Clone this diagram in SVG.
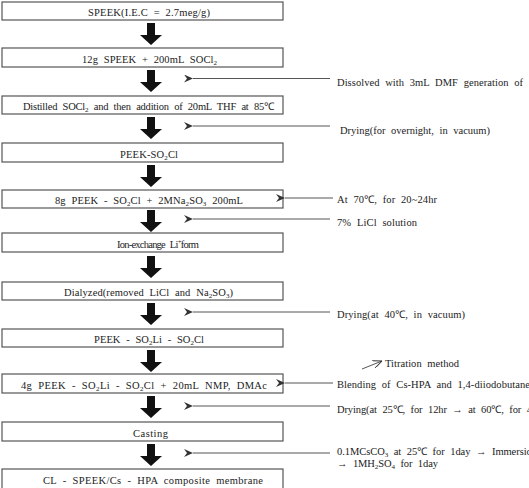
<svg xmlns="http://www.w3.org/2000/svg" width="529" height="488" viewBox="0 0 529 488">
<defs>
<style>
.box{fill:#fff;stroke:#555;stroke-width:1.2}
.t{font-family:"Liberation Serif","Times New Roman",serif;font-size:10.5px;fill:#222;word-spacing:3px}
.sub{font-size:7px}
.ln{stroke:#555;stroke-width:1;fill:none}
.big{fill:#111}
</style>
<marker id="ah" markerWidth="10" markerHeight="8" refX="0" refY="4" orient="auto" markerUnits="userSpaceOnUse">
<path d="M0,4 L9,0 L6,4 L9,8 Z" fill="#333"/>
</marker>
<marker id="ah2" markerWidth="10" markerHeight="8" refX="9" refY="4" orient="auto" markerUnits="userSpaceOnUse">
<path d="M9,4 L0,0 M9,4 L0,8" stroke="#333" stroke-width="1" fill="none"/>
</marker>
<path id="darr" d="M-4,0 H4 V12 H11 L0,22 L-11,12 H-4 Z"/>
</defs>

<g id="n1"><rect class="box" x="2" y="2" width="281" height="18"/><text class="t" x="88" y="16" textLength="122" lengthAdjust="spacing">SPEEK(I.E.C = 2.7meg/g)</text></g>
<g id="n2"><rect class="box" x="2" y="48" width="281" height="19"/><text class="t" x="82" y="63" textLength="135" lengthAdjust="spacing">12g SPEEK + 200mL SOCl<tspan class="sub" dy="2">2</tspan></text></g>
<g id="n3"><rect class="box" x="2" y="96" width="281" height="18"/><text class="t" x="23" y="110" textLength="251" lengthAdjust="spacing">Distilled SOCl<tspan class="sub" dy="2">2</tspan><tspan dy="-2"> and then addition of 20mL THF at 85℃</tspan></text></g>
<g id="n4"><rect class="box" x="2" y="143" width="281" height="19"/><text class="t" x="120" y="157.5" textLength="58" lengthAdjust="spacing">PEEK-SO<tspan class="sub" dy="2">2</tspan><tspan dy="-2">Cl</tspan></text></g>
<g id="n5"><rect class="box" x="2" y="190" width="281" height="18"/><text class="t" x="55" y="204" textLength="188" lengthAdjust="spacing">8g PEEK - SO<tspan class="sub" dy="2">2</tspan><tspan dy="-2">Cl + 2MNa</tspan><tspan class="sub" dy="2">2</tspan><tspan dy="-2">SO</tspan><tspan class="sub" dy="2">3</tspan><tspan dy="-2"> 200mL</tspan></text></g>
<g id="n6"><rect class="box" x="2" y="233" width="281" height="19"/><text class="t" x="117" y="247.5" textLength="82" lengthAdjust="spacing">Ion-exchange Li<tspan class="sub" dy="-4">+</tspan><tspan dy="4">form</tspan></text></g>
<g id="n7"><rect class="box" x="2" y="282" width="281" height="18"/><text class="t" x="64" y="296" textLength="169" lengthAdjust="spacing">Dialyzed(removed LiCl and Na<tspan class="sub" dy="2">2</tspan><tspan dy="-2">SO</tspan><tspan class="sub" dy="2">3</tspan><tspan dy="-2">)</tspan></text></g>
<g id="n8"><rect class="box" x="2" y="329" width="281" height="18"/><text class="t" x="94" y="343" textLength="110" lengthAdjust="spacing">PEEK - SO<tspan class="sub" dy="2">2</tspan><tspan dy="-2">Li - SO</tspan><tspan class="sub" dy="2">2</tspan><tspan dy="-2">Cl</tspan></text></g>
<g id="n9"><rect class="box" x="2" y="374" width="281" height="19"/><text class="t" x="21" y="388.5" textLength="246" lengthAdjust="spacing">4g PEEK - SO<tspan class="sub" dy="2">2</tspan><tspan dy="-2">Li - SO</tspan><tspan class="sub" dy="2">2</tspan><tspan dy="-2">Cl + 20mL NMP, DMAc</tspan></text></g>
<g id="n10"><rect class="box" x="2" y="422" width="281" height="19"/><text class="t" x="133" y="436.5" textLength="35" lengthAdjust="spacing">Casting</text></g>
<g id="n11"><rect class="box" x="2" y="469" width="281" height="22"/><text class="t" x="43" y="483.5" textLength="220" lengthAdjust="spacing">CL - SPEEK/Cs - HPA composite membrane</text></g>

<g id="connectors">
<use href="#darr" class="big" x="151" y="23"/>
<use href="#darr" class="big" x="151" y="70"/>
<use href="#darr" class="big" x="151" y="117"/>
<use href="#darr" class="big" x="151" y="165"/>
<use href="#darr" class="big" x="151" y="210"/>
<use href="#darr" class="big" x="151" y="256"/>
<use href="#darr" class="big" x="151" y="303"/>
<use href="#darr" class="big" x="151" y="350"/>
<use href="#darr" class="big" x="151" y="396"/>
<use href="#darr" class="big" x="151" y="444"/>

<line class="ln" x1="330" y1="78.5" x2="193" y2="78.5" marker-end="url(#ah)"/>
<line class="ln" x1="330" y1="126" x2="193" y2="126" marker-end="url(#ah)"/>
<line class="ln" x1="333" y1="198" x2="285" y2="198" marker-end="url(#ah)"/>
<line class="ln" x1="330" y1="219" x2="193" y2="219" marker-end="url(#ah)"/>
<line class="ln" x1="330" y1="312" x2="193" y2="312" marker-end="url(#ah)"/>
<line class="ln" x1="333" y1="383" x2="285" y2="383" marker-end="url(#ah)"/>
<line class="ln" x1="330" y1="406" x2="193" y2="406" marker-end="url(#ah)"/>
<line class="ln" x1="330" y1="453" x2="193" y2="453" marker-end="url(#ah)"/>
<line class="ln" x1="362" y1="369" x2="382" y2="361" marker-end="url(#ah2)"/>
</g>

<g id="labels">
<text class="t" x="337" y="86" textLength="186" lengthAdjust="spacing">Dissolved with 3mL DMF generation of</text>
<text class="t" x="340" y="134" textLength="150" lengthAdjust="spacing">Drying(for overnight, in vacuum)</text>
<text class="t" x="337" y="203" textLength="100" lengthAdjust="spacing">At 70℃, for 20~24hr</text>
<text class="t" x="337" y="226" textLength="80" lengthAdjust="spacing">7% LiCl solution</text>
<text class="t" x="337" y="318" textLength="128" lengthAdjust="spacing">Drying(at 40℃, in vacuum)</text>
<text class="t" x="385" y="367" textLength="74" lengthAdjust="spacing">Titration method</text>
<text class="t" x="337" y="388" textLength="193" lengthAdjust="spacing">Blending of Cs-HPA and 1,4-diiodobutane</text>
<text class="t" x="337" y="413" textLength="195" lengthAdjust="spacing">Drying(at 25℃, for 12hr → at 60℃, for 4</text>
<text class="t" x="337" y="454.5" textLength="200" lengthAdjust="spacing">0.1MCsCO<tspan class="sub" dy="2">3</tspan><tspan dy="-2"> at 25℃ for 1day → Immersion</tspan></text>
<text class="t" x="337" y="467" textLength="101" lengthAdjust="spacing">→ 1MH<tspan class="sub" dy="2">2</tspan><tspan dy="-2">SO</tspan><tspan class="sub" dy="2">4</tspan><tspan dy="-2"> for 1day</tspan></text>
</g>
</svg>
